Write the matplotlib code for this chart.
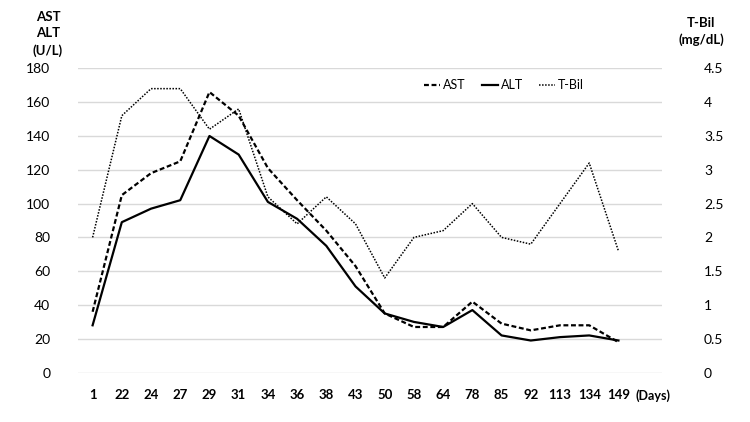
import numpy as np
import matplotlib
matplotlib.use("Agg")
import matplotlib.pyplot as plt

plt.rcParams["font.family"] = ["Lato", "DejaVu Sans"]

# days of measurement (last slot holds the axis unit label)
days = ["1", "22", "24", "27", "29", "31", "34", "36", "38", "43", "50",
        "58", "64", "78", "85", "92", "113", "134", "149", "(Days)"]

ast = [36, 105, 118, 125, 166, 152, 121, 102, 84, 63, 35,
       27, 27, 42, 29, 25, 28, 28, 18, np.nan]
alt = [28, 89, 97, 102, 140, 129, 101, 91, 75, 51, 35,
       30, 27, 37, 22, 19, 21, 22, 19, np.nan]
tbil = [2.0, 3.8, 4.2, 4.2, 3.6, 3.9, 2.6, 2.2, 2.6, 2.2, 1.4,
        2.0, 2.1, 2.5, 2.0, 1.9, 2.5, 3.1, 1.8, np.nan]

fig = plt.figure(figsize=(7.5, 4.22), dpi=100)
ax1 = fig.add_axes([0.104, 0.117, 0.779, 0.721])
ax2 = ax1.twinx()

x = np.arange(len(days))
l1, = ax1.plot(x, ast, color="black", lw=1.6, linestyle=(0, (2.2, 1.2)), label="AST")
l2, = ax1.plot(x, alt, color="black", lw=1.6, label="ALT")
l3, = ax2.plot(x, tbil, color="black", lw=1.1, linestyle=(0, (1, 1)), label="T-Bil")

ax1.set_xlim(-0.5, len(days) - 0.5)
ax1.set_ylim(0, 180)
ax1.set_yticks(np.arange(0, 181, 20))
ax2.set_ylim(0, 4.5)
ax2.set_yticks(np.arange(0, 4.51, 0.5))
ax2.set_yticklabels(["0", "0.5", "1", "1.5", "2", "2.5", "3", "3.5", "4", "4.5"])

ax1.set_xticks(x)
ax1.set_xticklabels(days[:-1] + [""], fontweight="bold", fontsize=9.5)
# the unit label sits a little to the right of its slot
ax1.annotate(days[-1], xy=(x[-1], 0), xycoords=("data", "axes fraction"),
             xytext=(4, -12), textcoords="offset points", ha="center", va="top",
             fontweight="bold", fontsize=9)

ax1.grid(axis="y", color="#d9d9d9", lw=1)
ax1.set_axisbelow(True)
for a in (ax1, ax2):
    for s in a.spines.values():
        s.set_visible(False)
ax1.tick_params(axis="x", length=0, pad=12)
ax1.tick_params(axis="y", length=0, pad=20, labelsize=10)
ax2.tick_params(axis="y", length=0, pad=30, labelsize=10)
for t in ax2.get_yticklabels():
    t.set_horizontalalignment("left")

fig.text(0.064, 0.92, "AST\nALT\n(U/L)", ha="center", va="center",
         fontsize=9.5, fontweight="bold", linespacing=1.45)
fig.text(0.935, 0.926, "T-Bil\n(mg/dL)", ha="center", va="center",
         fontsize=9.5, fontweight="bold", linespacing=1.45)

ax1.legend(handles=[l1, l2, l3], loc="center", bbox_to_anchor=(0.729, 0.945),
           ncol=3, frameon=False, fontsize=9, handlelength=1.3,
           handletextpad=0.2, columnspacing=1.3)

fig.savefig("out.png", dpi=100)
